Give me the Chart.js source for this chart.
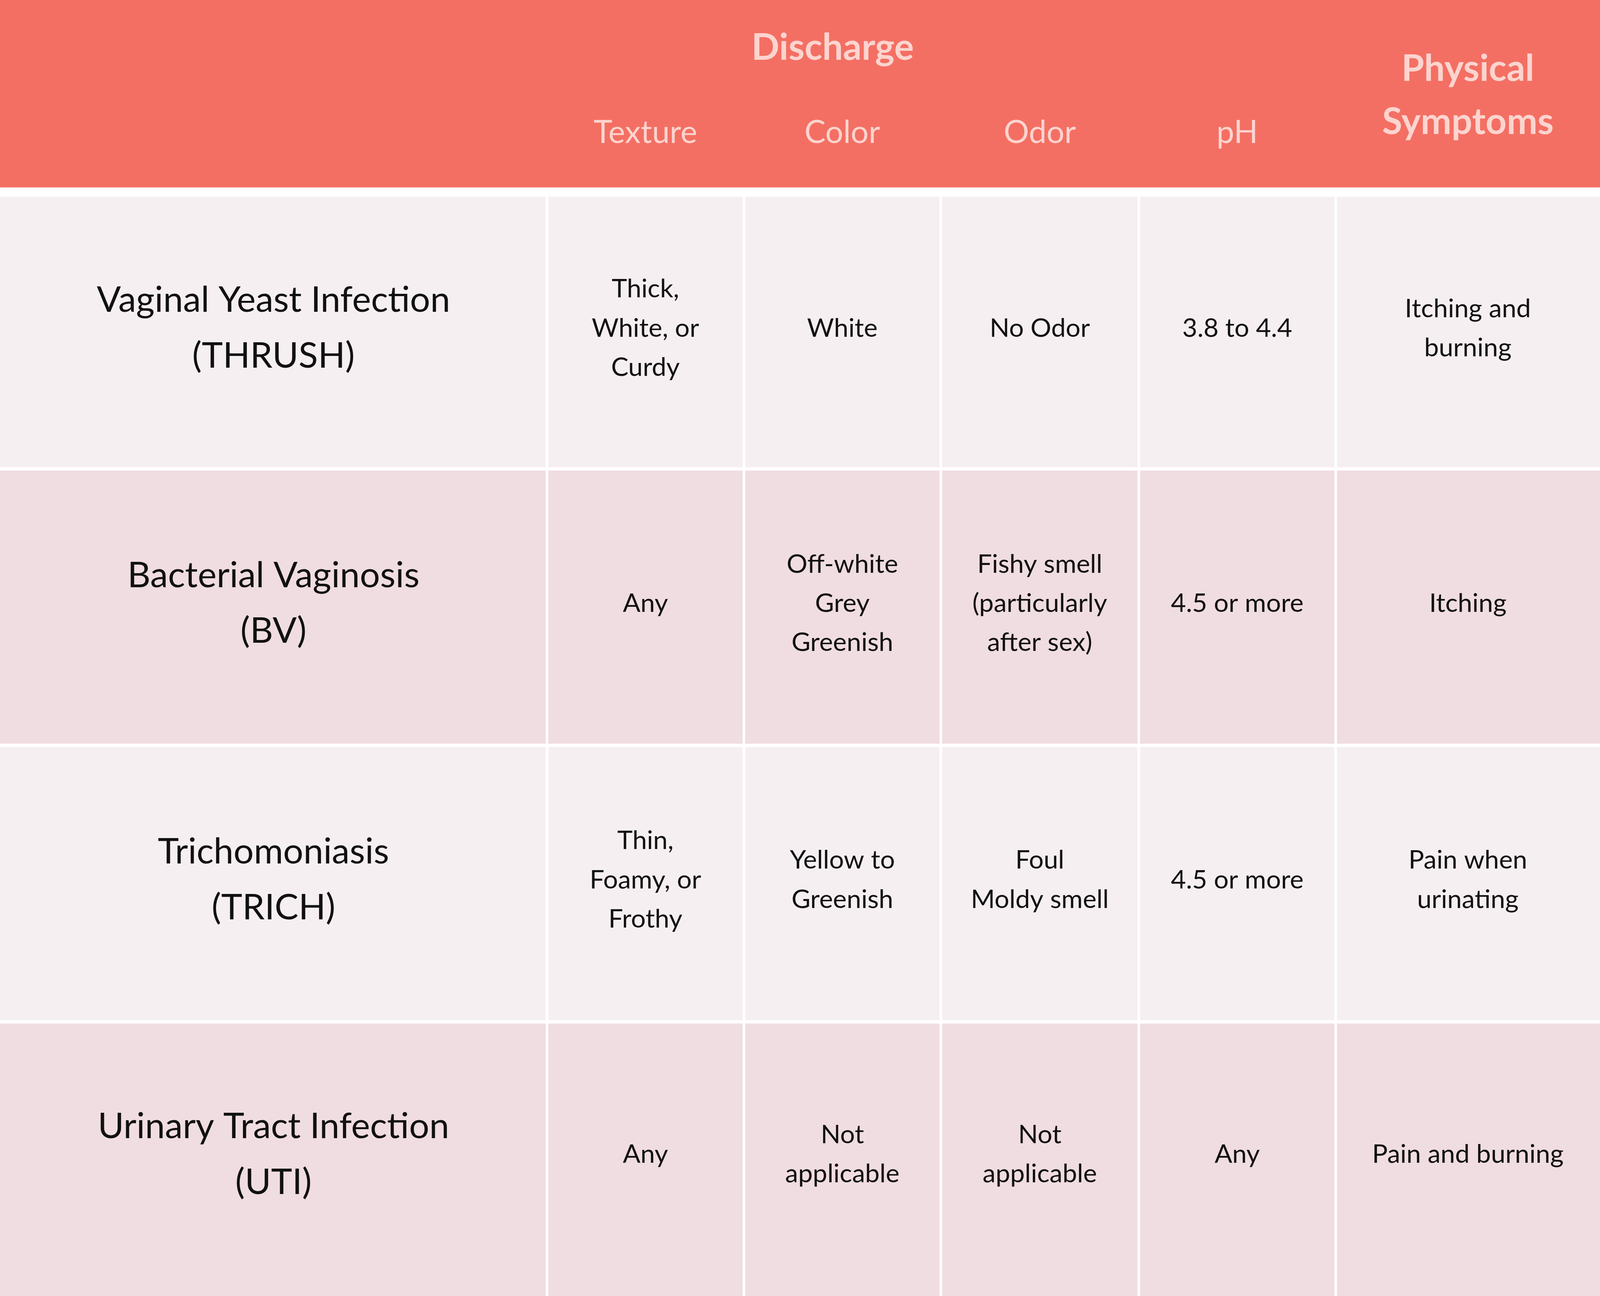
<!DOCTYPE html>
<html>
<head>
<meta charset="utf-8">
<script src="https://cdn.jsdelivr.net/npm/chart.js@4"></script>
<style>
  html, body { margin: 0; padding: 0; background: #ffffff; overflow: hidden; }
  #wrap { width: 100vw; height: 100vh; }
</style>
</head>
<body>
<div id="wrap"><canvas id="tbl"></canvas></div>
<script>
// table content
const rowLabels = [
  ["Vaginal Yeast Infection", "(THRUSH)"],
  ["Bacterial Vaginosis", "(BV)"],
  ["Trichomoniasis", "(TRICH)"],
  ["Urinary Tract Infection", "(UTI)"]
];
const groupTitle = "Discharge";
const columnTitles = [["Texture"], ["Color"], ["Odor"], ["pH"], ["Physical", "Symptoms"]];
const texture = [["Thick,", "White, or", "Curdy"], ["Any"], ["Thin,", "Foamy, or", "Frothy"], ["Any"]];
const color = [["White"], ["Off-white", "Grey", "Greenish"], ["Yellow to", "Greenish"], ["Not", "applicable"]];
const odor = [["No Odor"], ["Fishy smell", "(particularly", "after sex)"], ["Foul", "Moldy smell"], ["Not", "applicable"]];
const ph = [["3.8 to 4.4"], ["4.5 or more"], ["4.5 or more"], ["Any"]];
const symptoms = [["Itching and", "burning"], ["Itching"], ["Pain when", "urinating"], ["Pain and burning"]];

// layout (in 1568 x 975 units)
const colEdges = [0, 536, 729, 922, 1116, 1309, 1568];
const headerH = 141;
const rowEdges = [148, 354, 562, 770, 975];
const gap = 2.5;

const C = {
  header: "#F46F63",
  headText: "#FCD4CF",
  rowA: "#F6EFF1",
  rowB: "#F0DDE1",
  text: "#111111"
};
const FONT = "Lato, 'Noto Sans', sans-serif";

const tablePlugin = {
  id: "tableDraw",
  beforeDatasetsDraw(chart) {
    const ctx = chart.ctx;
    const xs = chart.scales.x, ys = chart.scales.y;
    const k = (xs.getPixelForValue(1568) - xs.getPixelForValue(0)) / 1568;
    const X = v => xs.getPixelForValue(v);
    const Y = v => ys.getPixelForValue(v);
    const rect = (x0, y0, x1, y1, fill) => {
      ctx.fillStyle = fill;
      ctx.fillRect(X(x0), Y(y0), X(x1) - X(x0), Y(y1) - Y(y0));
    };
    const lines = (arr, cx, cy, size, lh, weight, fill) => {
      ctx.font = weight + " " + (size * k) + "px " + FONT;
      ctx.fillStyle = fill;
      ctx.textAlign = "center";
      ctx.textBaseline = "middle";
      const start = cy - (arr.length - 1) * lh / 2;
      arr.forEach((t, i) => ctx.fillText(t, X(cx), Y(start + i * lh)));
    };
    ctx.save();
    // header band
    rect(0, 0, 1568, headerH, C.header);
    lines([groupTitle], (colEdges[1] + colEdges[4]) / 2 - 10, 36, 36, 40, "bold", C.headText);
    columnTitles.forEach((t, i) => {
      const cx = (colEdges[i + 1] + colEdges[i + 2]) / 2;
      if (t.length > 1) lines(t, cx, 72, 36, 40, "bold", C.headText);
      else lines(t, cx, 100, 31, 40, "normal", C.headText);
    });
    // body cells
    const cols = [texture, color, odor, ph, symptoms];
    rowLabels.forEach((lab, r) => {
      const y0 = rowEdges[r], y1 = rowEdges[r + 1] - (r < 3 ? gap : 0);
      const fill = r % 2 === 0 ? C.rowA : C.rowB;
      const cy = (rowEdges[r] + rowEdges[r + 1]) / 2 - 4;
      for (let c = 0; c < colEdges.length - 1; c++) {
        const x0 = colEdges[c] + (c > 0 ? gap / 2 : 0);
        const x1 = colEdges[c + 1] - (c < colEdges.length - 2 ? gap / 2 : 0);
        rect(x0, y0, x1, y1, fill);
      }
      lines(lab, colEdges[1] / 2, cy, 35, 42, "normal", C.text);
      cols.forEach((col, c) => {
        const cx = (colEdges[c + 1] + colEdges[c + 2]) / 2;
        lines(col[r], cx, cy, 25.5, 29.5, "normal", C.text);
      });
    });
    ctx.restore();
  }
};

new Chart(document.getElementById("tbl"), {
  type: "scatter",
  data: { datasets: [{ data: [], pointRadius: 0 }] },
  options: {
    responsive: true,
    maintainAspectRatio: false,
    animation: false,
    layout: { padding: 0 },
    plugins: { legend: { display: false }, tooltip: { enabled: false } },
    scales: {
      x: { type: "linear", min: 0, max: 1568, display: false },
      y: { type: "linear", min: 0, max: 975, reverse: true, display: false }
    }
  },
  plugins: [tablePlugin]
});
</script>
</body>
</html>
